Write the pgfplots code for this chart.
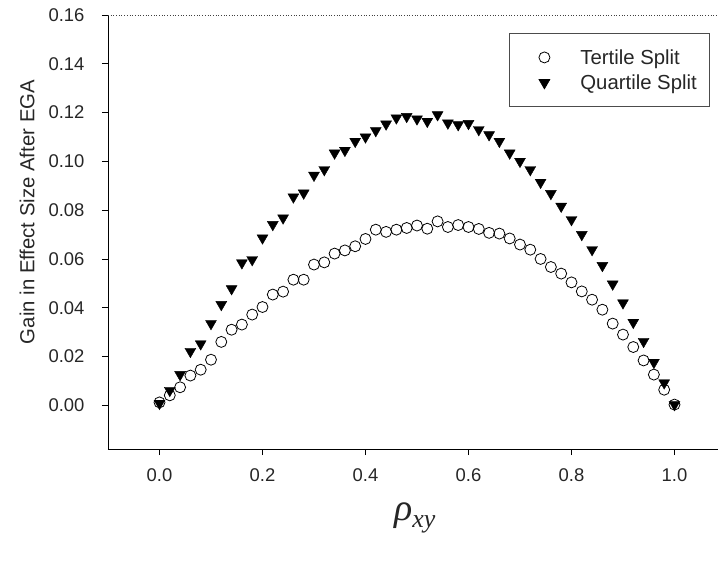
\documentclass[border=0pt]{standalone}
\usepackage{fontspec}
\setmainfont{Liberation Sans}
\newfontfamily\lserif{Liberation Serif}
\usepackage{pgfplots}
\pgfplotsset{compat=1.18}
\usepackage{pgfplotstable}
\pgfplotstableread{
x t q
0.00 0.0012 0.0008
0.02 0.0041 0.0061
0.04 0.0074 0.0126
0.06 0.0122 0.0221
0.08 0.0146 0.0252
0.10 0.0187 0.0335
0.12 0.0260 0.0413
0.14 0.0310 0.0478
0.16 0.0331 0.0584
0.18 0.0372 0.0597
0.20 0.0403 0.0686
0.22 0.0454 0.0741
0.24 0.0466 0.0768
0.26 0.0515 0.0854
0.28 0.0515 0.0870
0.30 0.0577 0.0943
0.32 0.0586 0.0966
0.34 0.0622 0.1034
0.36 0.0635 0.1045
0.38 0.0652 0.1082
0.40 0.0682 0.1100
0.42 0.0720 0.1126
0.44 0.0711 0.1153
0.46 0.0720 0.1178
0.48 0.0727 0.1184
0.50 0.0737 0.1174
0.52 0.0724 0.1164
0.54 0.0754 0.1191
0.56 0.0731 0.1157
0.58 0.0739 0.1150
0.60 0.0731 0.1155
0.62 0.0723 0.1130
0.64 0.0707 0.1109
0.66 0.0704 0.1082
0.68 0.0684 0.1034
0.70 0.0659 0.1000
0.72 0.0638 0.0966
0.74 0.0600 0.0914
0.76 0.0567 0.0868
0.78 0.0540 0.0816
0.80 0.0504 0.0761
0.82 0.0467 0.0700
0.84 0.0433 0.0638
0.86 0.0392 0.0573
0.88 0.0335 0.0497
0.90 0.0290 0.0420
0.92 0.0239 0.0340
0.94 0.0184 0.0262
0.96 0.0126 0.0176
0.98 0.0064 0.0092
1.00 0.0003 0.0003
}\data
\begin{document}
\begin{tikzpicture}
\begin{axis}[
  name=ax,
  scale only axis,
  width=610bp, height=434bp,
  xmin=-0.1, xmax=1.0845,
  ymin=-0.0179, ymax=0.16,
  axis lines*=left,
  axis line style={black, line width=0.8pt},
  xtick={0,0.2,0.4,0.6,0.8,1.0},
  ytick={0,0.02,0.04,0.06,0.08,0.10,0.12,0.14,0.16},
  tick align=outside,
  major tick length=6bp,
  tick style={black, line width=0.8pt},
  /pgf/number format/assume math mode=true,
  xticklabel style={/pgf/number format/fixed, /pgf/number format/fixed zerofill, /pgf/number format/precision=1, font=\fontsize{18.5}{22}\selectfont, text=black!85, yshift=-10bp},
  yticklabel style={/pgf/number format/fixed, /pgf/number format/fixed zerofill, /pgf/number format/precision=2, font=\fontsize{18.5}{22}\selectfont, text=black!85, xshift=-14bp},
  scaled y ticks=false,
  ylabel={Gain in Effect Size After EGA},
  ylabel style={at={(axis description cs:-0.1328,0.546)}, anchor=center, font=\fontsize{20.4}{24}\selectfont, text=black!85},
  xlabel={{\lserif\itshape\fontsize{38}{40}\selectfont ρ\raisebox{-7bp}{\fontsize{26}{28}\selectfont xy}}},
  xlabel style={at={(axis description cs:0.503,-0.158)}, anchor=center, text=black!85},
  legend image code/.code={\path[draw=none] (-22bp,0) rectangle (12bp,0.1bp); \draw[#1] plot coordinates {(0bp,0bp)};},
  legend style={at={(axis description cs:0.987,0.9585)}, anchor=north east, draw=black!70, line width=0.6pt, font=\fontsize{20.4}{24}\selectfont, text=black!85, inner xsep=13bp, inner ysep=16bp, row sep=9bp, column sep=24bp, nodes={inner xsep=0pt, inner ysep=0pt}, legend cell align=left},
  clip=false,
]
\addplot[only marks, mark=o, mark size=5.5bp, mark options={black, line width=0.8pt, fill=white}] table[x=x,y=t]{\data};
\addlegendentry{Tertile Split}
\addplot[only marks, mark=triangle*, mark size=6.3bp, mark options={black, fill=black, rotate=180}] table[x=x,y=q]{\data};
\addlegendentry{Quartile Split}
\draw[black!75, line width=0.7pt, dotted] (rel axis cs:0,1) -- (rel axis cs:1,1);
\end{axis}
\pgfresetboundingbox
\path ([xshift=-108bp,yshift=-116bp]ax.south west) rectangle ([yshift=15bp]ax.north east);
\end{tikzpicture}
\end{document}
